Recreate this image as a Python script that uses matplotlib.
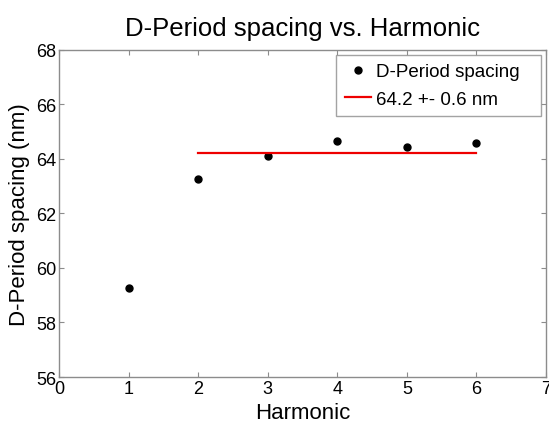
import matplotlib
matplotlib.use('Agg')
import matplotlib.pyplot as plt

harmonic = [1, 2, 3, 4, 5, 6]
spacing = [59.27, 63.28, 64.10, 64.64, 64.42, 64.60]
fit_x = [2, 6]
fit_y = [64.2, 64.2]

plt.rcParams['font.family'] = ['Liberation Sans', 'DejaVu Sans']

fig = plt.figure(figsize=(5.49, 4.35), dpi=100, facecolor='white')
ax = fig.add_axes([0.1075, 0.131, 0.887, 0.752])

ax.plot(harmonic, spacing, 'o', color='black', markersize=5, linestyle='none',
        label='D-Period spacing')
ax.plot(fit_x, fit_y, '-', color='#ee0000', linewidth=1.6, label='64.2 +- 0.6 nm')

ax.set_xlim(0, 7)
ax.set_ylim(56, 68)
ax.set_xticks(range(0, 8))
ax.set_yticks(range(56, 69, 2))

for s in ax.spines.values():
    s.set_color('#8c8c8c')
    s.set_linewidth(1.0)
ax.tick_params(direction='in', top=True, right=True, length=3.5, width=0.8,
               color='#8c8c8c', labelsize=13, labelcolor='black', pad=2)

ax.set_title('D-Period spacing vs. Harmonic', fontsize=18.5, pad=11)
ax.set_xlabel('Harmonic', fontsize=16, labelpad=4)
ax.set_ylabel('D-Period spacing (nm)', fontsize=16, labelpad=4)

leg = ax.legend(loc='upper left', bbox_to_anchor=(0.569, 0.807, 0.421, 0.178),
                mode='expand', fontsize=13.5, frameon=True, fancybox=False,
                handlelength=1.4, handletextpad=0.3, borderpad=0.45,
                labelspacing=0.55, borderaxespad=0)
leg.get_frame().set_edgecolor('#8c8c8c')
leg.get_frame().set_linewidth(1.0)

plt.savefig('out.png', dpi=100, facecolor='white')
plt.close()
